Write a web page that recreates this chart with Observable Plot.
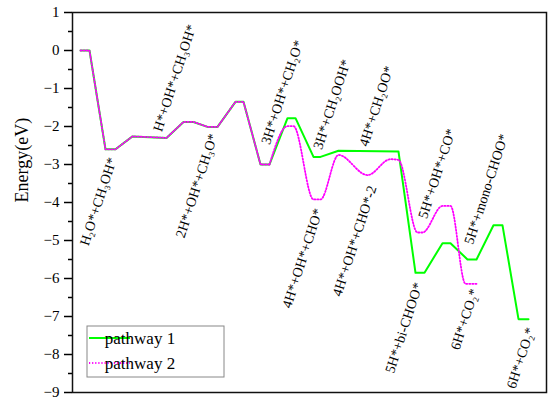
<!DOCTYPE html>
<html><head><meta charset="utf-8">
<script src="https://cdn.jsdelivr.net/npm/d3@7"></script>
<script src="https://cdn.jsdelivr.net/npm/@observablehq/plot@0.6"></script>
<style>body{margin:0;background:#fff} svg text{font-family:"Liberation Serif","Times New Roman",serif;}</style>
</head><body><div id="chart"></div>
<script>
// Series
const seriesNames = ["pathway 1", "pathway 2"];
const seriesColors = ["#00ff00", "#ff00ff"];

// Reaction coordinate (arbitrary units) and energies (eV)
const path1X = [0.8, 1.7, 3.3, 4.3, 6.0, 9.4, 11.1, 12.1, 13.5, 14.5, 16.3, 17.1, 18.8, 19.7,
                21.5, 22.3, 24.1, 24.8, 26.6, 32.6, 34.3, 35.2, 37.0, 37.8, 39.5, 40.4, 42.1, 43.0, 44.6, 45.6];
const path1E = [0, 0, -2.60, -2.60, -2.26, -2.30, -1.88, -1.88, -2.01, -2.01, -1.35, -1.35, -3.00, -3.00,
                -1.78, -1.78, -2.80, -2.80, -2.64, -2.66, -5.85, -5.85, -5.07, -5.07, -5.50, -5.50, -4.60, -4.60, -7.07, -7.07];

const path2X = [0.8, 1.7, 3.3, 4.3, 6.0, 9.4, 11.1, 12.1, 13.5, 14.5, 16.3, 17.1, 18.8, 19.7,
                21.5, 22.1, 24.1, 24.8, 26.6, 29.5, 31.8, 32.6, 34.5, 35.0, 37.0, 37.8, 39.3, 40.4];
const path2E = [0, 0, -2.60, -2.60, -2.26, -2.30, -1.88, -1.88, -2.01, -2.01, -1.35, -1.35, -3.00, -3.00,
                -1.99, -1.99, -3.92, -3.92, -2.75, -3.28, -2.86, -2.88, -4.79, -4.79, -4.09, -4.09, -6.14, -6.14];
const sharedCount = 14; // pathway 2 coincides with pathway 1 for its first points

// Intermediate labels
const labelText = ["H₂O*+CH₃OH*", "H*+OH*+CH₃OH*", "2H*+OH*+CH₃O*", "3H*+OH*+CH₂O*", "4H*+OH*+CHO*",
                   "3H*+CH₂OOH*", "4H*+CH₂OO*", "4H*+OH*+CHO*-2", "5H*+bi-CHOO*", "5H*+OH*+CO*",
                   "6H*+CO₂*", "5H*+mono-CHOO*", "6H*+CO₂*"];
const labelX = [4.0, 8.5, 14.1, 19.3, 24.6, 24.5, 29.1, 30.0, 34.6, 35.0, 40.2, 39.6, 45.8];
const labelE = [-2.83, -2.12, -2.20, -2.46, -4.17, -2.59, -2.51, -3.57, -6.12, -4.41, -6.28, -5.09, -7.30];
const labelSide = ["below", "above", "below", "above", "below", "above", "above", "below", "below", "above", "below", "above", "below"];

const yTicks = d3.range(-9, 2);
const yMinor = d3.range(-8.5, 1, 1);
const yLabel = "Energy(eV)";

const p1 = path1X.map((x, i) => ({x, e: path1E[i]}));
const p2 = path2X.map((x, i) => ({x, e: path2E[i]}));
const p2a = p2.slice(0, sharedCount);
const p2b = p2.slice(sharedCount - 1);
const labels = labelText.map((t, i) => ({t, x: labelX[i], e: labelE[i], side: labelSide[i]}));

const minus = d => d < 0 ? "\u2212" + Math.abs(d) : String(d);
const serif = "Liberation Serif";
const dots = "1.2,1.9";

const chart = Plot.plot({
  width: 550, height: 402,
  marginLeft: 72, marginRight: 4, marginTop: 12, marginBottom: 10,
  x: {domain: [0, 47.4], axis: null},
  y: {domain: [-9, 1]},
  style: {fontFamily: serif, background: "white", color: "#000"},
  marks: [
    Plot.axisY({ticks: yTicks, tickSize: 8, tickPadding: 5, fontSize: 15, fontFamily: serif, fontVariant: "normal", tickFormat: minus, label: null, strokeWidth: 1.5}),
    Plot.axisY({ticks: yMinor, tickSize: 4, tickFormat: () => "", label: null, strokeWidth: 1.5}),
    Plot.frame({stroke: "#111", strokeWidth: 1.5}),
    Plot.line(p1, {x: "x", y: "e", stroke: seriesColors[0], strokeWidth: 2}),
    Plot.line(p2a, {x: "x", y: "e", stroke: seriesColors[1], strokeWidth: 1.8, strokeDasharray: dots}),
    Plot.line(p2b, {x: "x", y: "e", stroke: seriesColors[1], strokeWidth: 1.8, strokeDasharray: dots, curve: "monotone-x"}),
    Plot.text(labels.filter(d => d.side === "above"), {x: "x", y: "e", text: "t", rotate: -72, textAnchor: "start", fontSize: 14, fontFamily: serif}),
    Plot.text(labels.filter(d => d.side === "below"), {x: "x", y: "e", text: "t", rotate: -72, textAnchor: "end", fontSize: 14, fontFamily: serif}),
    Plot.text([yLabel], {text: d => d, frameAnchor: "left", rotate: -90, dx: -50, fontSize: 18, fontFamily: serif})
  ]
});

// Legend inside the plot area (bottom-left)
const svg = d3.select(chart);
const lg = svg.append("g").attr("transform", "translate(87,326)");
lg.append("rect").attr("width", 137).attr("height", 51).attr("fill", "white").attr("stroke", "#888").attr("stroke-width", 1);
seriesNames.forEach((name, i) => {
  const y = 12 + i * 25;
  lg.append("line").attr("x1", 2).attr("x2", 43).attr("y1", y).attr("y2", y)
    .attr("stroke", seriesColors[i]).attr("stroke-width", i === 0 ? 2 : 1.8)
    .attr("stroke-dasharray", i === 0 ? null : dots);
  lg.append("text").attr("x", 53).attr("y", y).attr("dy", "0.35em")
    .attr("font-size", 17).attr("font-family", serif).text(name);
});

document.getElementById("chart").appendChild(chart);
</script>
</body></html>
